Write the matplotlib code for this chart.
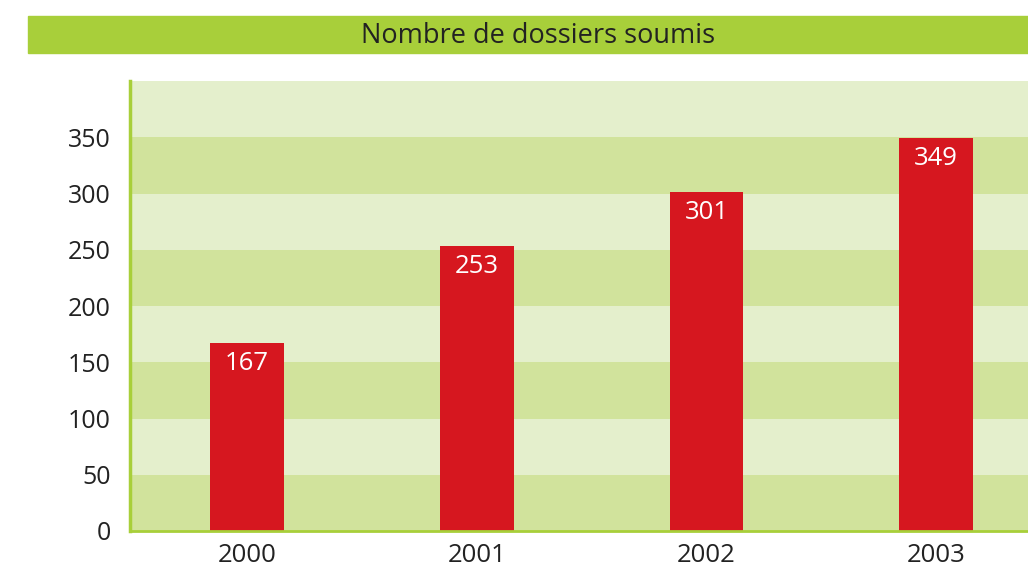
import matplotlib.pyplot as plt
from matplotlib.patches import Rectangle

annees = ['2000', '2001', '2002', '2003']
dossiers = [167, 253, 301, 349]
graduations = [0, 50, 100, 150, 200, 250, 300, 350]

vert = '#a8cf3a'
bande_claire = '#e4efcc'
bande_foncee = '#d1e39c'
rouge = '#d6171f'

plt.rcParams['font.family'] = ['Open Sans', 'DejaVu Sans']

fig = plt.figure(figsize=(10.28, 5.68), dpi=100)

# bandeau du titre
fig.patches.append(Rectangle((28 / 1028, 1 - 53 / 568), 1000 / 1028, 37 / 568,
                             transform=fig.transFigure, color=vert, zorder=0))
fig.text(538 / 1028, 1 - 36 / 568, 'Nombre de dossiers soumis', ha='center', va='center',
         fontsize=19.5, color='#222222')

ax = fig.add_axes([130 / 1028, 37 / 568, 898 / 1028, 450 / 568])
ax.set_ylim(0, 400)
ax.set_xlim(-0.51, 3.4)

# bandes de fond
for i, y in enumerate(range(0, 400, 50)):
    ax.axhspan(y, y + 50, color=bande_foncee if i % 2 == 0 else bande_claire, zorder=0, lw=0)

x = range(len(annees))
barres = ax.bar(x, dossiers, width=0.32, color=rouge, zorder=2)
for xi, v in zip(x, dossiers):
    ax.text(xi, v - 7, str(v), ha='center', va='top', color='white', fontsize=18.5, zorder=3)

ax.set_yticks(graduations)
ax.set_yticklabels([str(g) for g in graduations], fontsize=18, color='#222222')
ax.set_xticks(list(x))
ax.set_xticklabels(annees, fontsize=18.5, color='#222222')
ax.tick_params(length=0)
ax.tick_params(axis='y', pad=14)
ax.tick_params(axis='x', pad=9)

for s in ['top', 'right']:
    ax.spines[s].set_visible(False)
ax.spines['left'].set_color(vert)
ax.spines['left'].set_linewidth(2.5)
ax.spines['bottom'].set_color(vert)
ax.spines['bottom'].set_linewidth(2)

plt.savefig('out.png', dpi=100)
